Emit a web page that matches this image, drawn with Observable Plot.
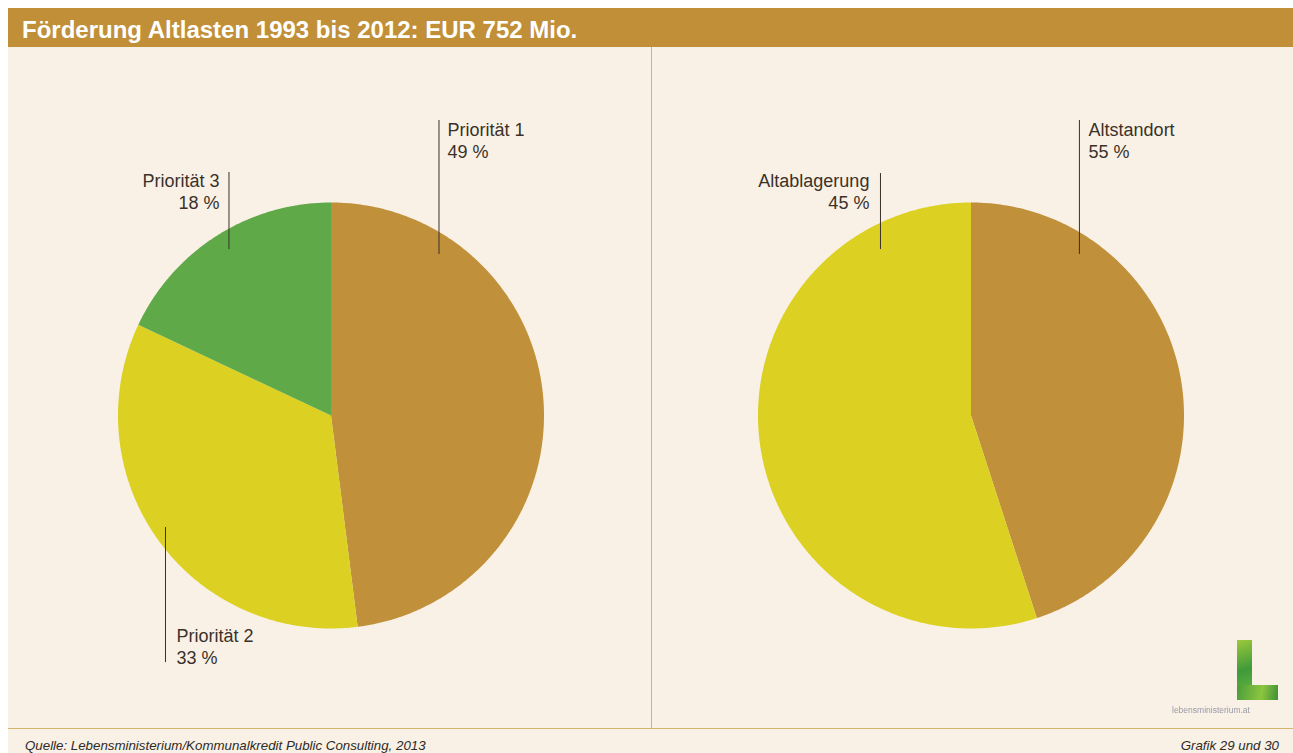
<!DOCTYPE html>
<html>
<head>
<meta charset="utf-8">
<script src="https://cdn.jsdelivr.net/npm/d3@7"></script>
<script src="https://cdn.jsdelivr.net/npm/@observablehq/plot@0.6"></script>
<style>
  html, body { margin: 0; padding: 0; background: #ffffff; }
  #page { position: relative; width: 1293px; height: 753px; overflow: hidden; font-family: "Liberation Sans", Arial, sans-serif; }
  #titlebar { position: absolute; left: 8px; top: 8px; width: 1285px; height: 39px; background: #c18f37; }
  #title { position: absolute; left: 14px; top: 2px; line-height: 40px; color: #ffffff; font-weight: bold; font-size: 24px; white-space: nowrap; }
  #panel { position: absolute; left: 8px; top: 47px; width: 1285px; height: 706px; background: #f9f1e6; }
  #divider { position: absolute; left: 651px; top: 47px; width: 1px; height: 682px; background: #d8b36b; }
  #hline { position: absolute; left: 8px; top: 728px; width: 1285px; height: 1px; background: #d8b36b; }
  .chart { position: absolute; top: 47px; }
  #source { position: absolute; left: 25px; top: 738px; font-size: 13.3px; font-style: italic; color: #2e2a26; white-space: nowrap; }
  #grafik { position: absolute; right: 14px; top: 738px; font-size: 13.3px; font-style: italic; color: #2e2a26; white-space: nowrap; }
  #logoV { position: absolute; left: 1237px; top: 640px; width: 15px; height: 60px; background: linear-gradient(160deg, #9cc93c, #3f9a3a 50%, #6db842); }
  #logoH { position: absolute; left: 1237px; top: 685px; width: 41px; height: 15px; background: linear-gradient(100deg, #4a9d3b, #8cc63f 60%, #3d8f37); }
  #logoText { position: absolute; left: 1172px; top: 705px; font-size: 8.5px; color: #9a9aa8; white-space: nowrap; filter: blur(0.4px); }
</style>
</head>
<body>
<div id="page">
  <div id="titlebar"><div id="title"></div></div>
  <div id="panel"></div>
  <div id="divider"></div>
  <div id="hline"></div>
  <div id="left" class="chart" style="left:0px;"></div>
  <div id="right" class="chart" style="left:651px;"></div>
  <div id="logoV"></div>
  <div id="logoH"></div>
  <div id="logoText">lebensministerium.at</div>
  <div id="source"></div>
  <div id="grafik"></div>
</div>
<script>
// ---- Data ----
const titleText = "Förderung Altlasten 1993 bis 2012: EUR 752 Mio.";
const sourceText = "Quelle: Lebensministerium/Kommunalkredit Public Consulting, 2013";
const grafikText = "Grafik 29 und 30";

const leftCategories = ["Priorität 1", "Priorität 2", "Priorität 3"];
const leftShares = [48, 34, 18];            // slice sizes as drawn
const leftLabels = ["49 %", "33 %", "18 %"]; // percentages as printed
const leftColors = ["#c1903a", "#dcd122", "#5fa948"];

const rightCategories = ["Altstandort", "Altablagerung"];
const rightShares = [45, 55];                // slice sizes as drawn
const rightLabels = ["55 %", "45 %"];        // percentages as printed
const rightColors = ["#c1903a", "#dcd122"];

// ---- Layout (radius units, relative to pie centre) ----
const R = 213;
const leftLayout = {
  "Priorität 1": {lx: 0.507, ly1: 1.385, ly2: 0.756, tx: 0.547, ty: 1.386, anchor: "start"},
  "Priorität 2": {lx: -0.777, ly1: -0.526, ly2: -1.160, tx: -0.725, ty: -0.99, anchor: "start"},
  "Priorität 3": {lx: -0.479, ly1: 1.141, ly2: 0.779, tx: -0.523, ty: 1.146, anchor: "end"}
};
const rightLayout = {
  "Altstandort": {lx: 0.509, ly1: 1.385, ly2: 0.756, tx: 0.552, ty: 1.386, anchor: "start"},
  "Altablagerung": {lx: -0.425, ly1: 1.136, ly2: 0.779, tx: -0.477, ty: 1.146, anchor: "end"}
};

document.getElementById("title").textContent = titleText;
document.getElementById("source").textContent = sourceText;
document.getElementById("grafik").textContent = grafikText;

function slicePoints(cats, shares) {
  const total = d3.sum(shares);
  const pts = [];
  let acc = 0;
  cats.forEach((c, i) => {
    const a0 = acc / total * 2 * Math.PI;
    acc += shares[i];
    const a1 = acc / total * 2 * Math.PI;
    const n = Math.max(4, Math.ceil((a1 - a0) / 0.01));
    pts.push({cat: c, x: 0, y: 0});
    for (let k = 0; k <= n; k++) {
      const a = a0 + (a1 - a0) * k / n;
      pts.push({cat: c, x: Math.sin(a), y: Math.cos(a)});
    }
    pts.push({cat: c, x: 0, y: 0});
  });
  return pts;
}

function pie(cats, shares, labels, colors, layout, width, cx) {
  const height = 682, cy = 368;
  const pts = slicePoints(cats, shares);
  const lab = cats.map((c, i) => ({cat: c, text: c + "\n" + labels[i], ...layout[c]}));
  return Plot.plot({
    width, height,
    margin: 0,
    style: {background: "transparent", fontFamily: "'Liberation Sans', Arial, sans-serif"},
    x: {domain: [-cx / R, (width - cx) / R], axis: null},
    y: {domain: [-(height - cy) / R, cy / R], axis: null},
    color: {domain: cats, range: colors},
    marks: [
      Plot.line(pts, {x: "x", y: "y", z: "cat", fill: "cat", stroke: "none", curve: "linear"}),
      Plot.ruleX(lab, {x: "lx", y1: "ly1", y2: "ly2", stroke: "#3b3129", strokeWidth: 1}),
      Plot.text(lab.filter(d => d.anchor === "start"), {x: "tx", y: "ty", text: "text", textAnchor: "start", lineAnchor: "top", lineHeight: 1.22, fontSize: 18, fill: "#3b3129"}),
      Plot.text(lab.filter(d => d.anchor === "end"), {x: "tx", y: "ty", text: "text", textAnchor: "end", lineAnchor: "top", lineHeight: 1.22, fontSize: 18, fill: "#3b3129"})
    ]
  });
}

document.getElementById("left").appendChild(pie(leftCategories, leftShares, leftLabels, leftColors, leftLayout, 651, 330.5));
document.getElementById("right").appendChild(pie(rightCategories, rightShares, rightLabels, rightColors, rightLayout, 642, 319.5));
</script>
</body>
</html>
